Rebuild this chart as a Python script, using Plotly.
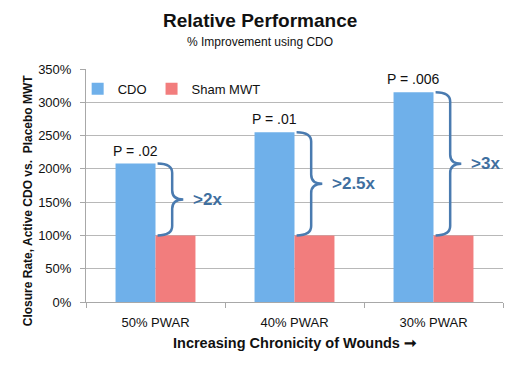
import plotly.graph_objects as go

categories = ["50% PWAR", "40% PWAR", "30% PWAR"]
cdo = [208, 255, 315]
sham = [100, 100, 100]
p_labels = ["P = .02", "P = .01", "P = .006"]
ratio_labels = [">2x", ">2.5x", ">3x"]

FONT = "Liberation Sans, Arial, sans-serif"
xs = list(range(len(categories)))

fig = go.Figure()
fig.add_trace(go.Bar(x=xs, y=cdo, name="CDO", marker=dict(color="#6fb0ea", line=dict(width=0))))
fig.add_trace(go.Bar(x=xs, y=sham, name="Sham MWT", marker=dict(color="#f27d7d", line=dict(width=0))))

bw = 0.2877  # one bar width in category units

def brace(i, ytop, ybot):
    x0 = i + 0.015
    x1 = i + 0.12
    x2 = i + 0.2
    r = 14
    ym = (ytop + ybot) / 2
    return (f"M {x0},{ytop} Q {x1},{ytop} {x1},{ytop - r} "
            f"L {x1},{ym + r} Q {x1},{ym} {x2},{ym} "
            f"Q {x1},{ym} {x1},{ym - r} "
            f"L {x1},{ybot + r} Q {x1},{ybot} {x0},{ybot}")

shapes = []
annotations = []
for i in xs:
    shapes.append(dict(type="path", path=brace(i, cdo[i], sham[i]), xref="x", yref="y",
                       line=dict(color="#4a7bb0", width=2.5)))
    annotations.append(dict(x=i - bw / 2, y=cdo[i], xref="x", yref="y", text=p_labels[i],
                            showarrow=False, yanchor="bottom", yshift=3,
                            font=dict(family=FONT, size=14, color="#111111")))
    annotations.append(dict(x=i + 0.255, y=(cdo[i] + sham[i]) / 2, xref="x", yref="y",
                            text=f"<b>{ratio_labels[i]}</b>", showarrow=False,
                            xanchor="left", yanchor="middle",
                            font=dict(family=FONT, size=17, color="#3f6f9f")))

annotations += [
    dict(x=0.417, y=1.21, xref="paper", yref="paper", text="<b>Relative Performance</b>",
         showarrow=False, yanchor="middle", font=dict(family=FONT, size=19, color="#111111")),
    dict(x=0.417, y=1.118, xref="paper", yref="paper", text="% Improvement using CDO",
         showarrow=False, yanchor="middle", font=dict(family=FONT, size=12, color="#111111")),
    dict(x=0.5, y=-0.178, xref="paper", yref="paper", text="<b>Increasing Chronicity of Wounds ➞</b>",
         showarrow=False, yanchor="middle", font=dict(family=FONT, size=14.5, color="#111111")),
    dict(x=-0.14, y=0.435, xref="paper", yref="paper",
         text="<b>Closure Rate, Active CDO vs.  Placebo MWT</b>", textangle=-90,
         showarrow=False, xanchor="center", yanchor="middle",
         font=dict(family=FONT, size=12, color="#111111")),
]

fig.update_layout(
    width=527, height=366,
    margin=dict(l=86, r=24, t=69, b=64),
    paper_bgcolor="white", plot_bgcolor="white",
    barmode="group", bargap=0.425, bargroupgap=0,
    shapes=shapes, annotations=annotations,
    showlegend=True,
    legend=dict(orientation="h", x=-0.02, y=0.915, xanchor="left", yanchor="middle",
                bgcolor="rgba(0,0,0,0)", font=dict(family=FONT, size=13, color="#111111"),
                itemwidth=30, tracegroupgap=0),
    font=dict(family=FONT, color="#111111"),
)
fig.update_xaxes(range=[-0.5, 2.5], tickvals=xs, ticktext=categories, ticks="",
                 showline=True, linecolor="#a8a8a8", linewidth=1, showgrid=False, zeroline=False,
                 ticklabelstandoff=8,
                 tickfont=dict(family=FONT, size=13, color="#111111"),
                 minor=dict(tickvals=[-0.5, 0.5, 1.5, 2.5], ticks="outside", ticklen=5,
                            tickcolor="#a8a8a8", showgrid=False))
fig.update_yaxes(range=[0, 350], dtick=50, ticksuffix="%", ticks="outside", ticklen=5,
                 tickcolor="#a8a8a8", showline=True, linecolor="#a8a8a8", linewidth=1,
                 showgrid=True, gridcolor="#b8b8b8", gridwidth=1, zeroline=False,
                 ticklabelstandoff=6,
                 tickfont=dict(family=FONT, size=13, color="#111111"))

fig.write_html("out.html", config={"displayModeBar": False},
               post_script="document.body.style.margin='0';document.body.style.overflow='hidden';")
